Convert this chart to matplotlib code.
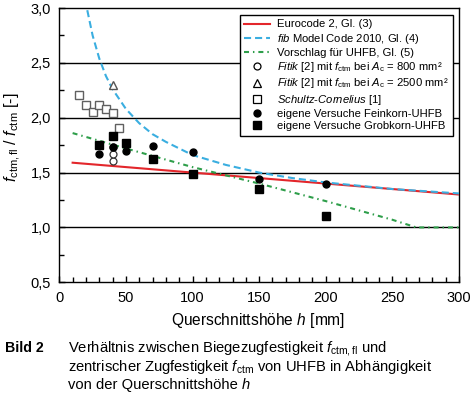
import matplotlib
matplotlib.use("Agg")
import matplotlib.pyplot as plt
from matplotlib.ticker import MultipleLocator, FuncFormatter
from matplotlib.lines import Line2D

plt.rcParams['font.family'] = ['Liberation Sans', 'DejaVu Sans']
plt.rcParams['mathtext.fontset'] = 'custom'
plt.rcParams['mathtext.rm'] = 'Liberation Sans'
plt.rcParams['mathtext.it'] = 'Liberation Sans:italic'
plt.rcParams['mathtext.bf'] = 'Liberation Sans:bold'

# ---- data ----
ec2_h = [10, 300]
ec2_r = [1.59, 1.30]

fib_h = [21, 25, 30, 35, 40, 50, 60, 70, 80, 100, 125, 150, 175, 200, 250, 300]
fib_r = [2.98, 2.75, 2.54, 2.38, 2.26, 2.08, 1.95, 1.85, 1.78, 1.66, 1.57, 1.50, 1.45, 1.41, 1.35, 1.31]

uhfb_h = [10, 50, 100, 150, 200, 250, 268, 300]
uhfb_r = [1.86, 1.72, 1.55, 1.40, 1.24, 1.07, 1.00, 1.00]

fitik800_h = [40, 40, 40]
fitik800_r = [1.61, 1.67, 1.73]

fitik2500_h = [40]
fitik2500_r = [2.30]

schultz_h = [15, 20, 25, 30, 35, 40, 45]
schultz_r = [2.21, 2.12, 2.05, 2.12, 2.08, 2.04, 1.91]

fein_h = [30, 40, 50, 70, 100, 150, 200]
fein_r = [1.67, 1.735, 1.70, 1.74, 1.69, 1.44, 1.40]

grob_h = [30, 40, 50, 70, 100, 150, 200]
grob_r = [1.75, 1.83, 1.77, 1.62, 1.49, 1.35, 1.10]

labels = [
    "Eurocode 2, Gl. (3)",
    r"$\it{fib}$ Model Code 2010, Gl. (4)",
    r"Vorschlag für UHFB, Gl. (5)",
    r"$\it{Fitik}$ [2] mit $f_{\rm ctm}$ bei $A_{\rm c}$ = 800 mm²",
    r"$\it{Fitik}$ [2] mit $f_{\rm ctm}$ bei $A_{\rm c}$ = 2500 mm²",
    r"$\it{Schultz}$-$\it{Cornelius}$ [1]",
    "eigene Versuche Feinkorn-UHFB",
    "eigene Versuche Grobkorn-UHFB",
]

fig = plt.figure(figsize=(4.71, 3.93), dpi=100)
ax = fig.add_axes([59.3/471, 1-282.3/393, (459-59.3)/471, (282.3-8)/393])

red = '#e3262b'
blue = '#3aaee0'
green = '#2e9e4a'
blue_dash = (3.4, 1.9)
green_dash = (2.4, 1.9, 0.7, 1.9)

for y in [1.0, 1.5, 2.0, 2.5]:
    ax.axhline(y, color='black', lw=1.0, zorder=1)

ax.plot(ec2_h, ec2_r, color=red, lw=1.5, zorder=3)
ax.plot(fib_h, fib_r, color=blue, lw=1.5, dashes=blue_dash, zorder=3)
ax.plot(uhfb_h, uhfb_r, color=green, lw=1.5, dashes=green_dash, zorder=3)

ax.plot(fitik800_h, fitik800_r, 'o', ms=5.0, mfc='white', mec='#333333', mew=0.9, ls='none', zorder=4)
ax.plot(fitik2500_h, fitik2500_r, '^', ms=6.0, mfc='white', mec='#555555', mew=1.0, ls='none', zorder=4)
ax.plot(schultz_h, schultz_r, 's', ms=5.6, mfc='white', mec='#606060', mew=1.0, ls='none', zorder=4)
ax.plot(grob_h, grob_r, 's', ms=6.0, color='black', ls='none', zorder=5)
ax.plot(fein_h, fein_r, 'o', ms=5.0, color='black', ls='none', zorder=5)

ax.set_xlim(0, 300)
ax.set_ylim(0.5, 3.0)
ax.xaxis.set_major_locator(MultipleLocator(50))
ax.xaxis.set_minor_locator(MultipleLocator(10))
ax.yaxis.set_major_locator(MultipleLocator(0.5))
ax.yaxis.set_minor_locator(MultipleLocator(0.25))
ax.yaxis.set_major_formatter(FuncFormatter(lambda v, p: f"{v:.1f}".replace('.', ',')))
ax.tick_params(which='both', direction='in', top=False, right=False, width=1.0, color='black')
ax.tick_params(which='major', length=4, labelsize=10.5, pad=6)
ax.tick_params(which='minor', length=3.5)
for s in ax.spines.values():
    s.set_linewidth(1.0)
    s.set_color('black')

handles = [
    Line2D([], [], color=red, lw=1.5),
    Line2D([], [], color=blue, lw=1.5, dashes=blue_dash),
    Line2D([], [], color=green, lw=1.5, dashes=green_dash),
    Line2D([], [], marker='o', ms=5.0, mfc='white', mec='black', mew=0.9, ls='none'),
    Line2D([], [], marker='^', ms=5.5, mfc='white', mec='black', mew=0.9, ls='none'),
    Line2D([], [], marker='s', ms=5.5, mfc='white', mec='black', mew=0.9, ls='none'),
    Line2D([], [], marker='o', ms=5.0, color='black', ls='none'),
    Line2D([], [], marker='s', ms=5.5, color='black', ls='none'),
]
leg = ax.legend(handles, labels, loc='upper right', bbox_to_anchor=(0.985, 0.9745),
                borderaxespad=0, fancybox=False, edgecolor='black', framealpha=1,
                fontsize=8.1, handlelength=2.3, handletextpad=0.6, labelspacing=0.2,
                borderpad=0.4)
leg.get_frame().set_linewidth(1.0)
leg.set_zorder(10)

fig.text(13/471, 1-137/393, r"$f_{\rm ctm,fl}$ / $f_{\rm ctm}$ [-]", rotation=90,
         ha='center', va='center', fontsize=11.5)
fig.text(0.547, 1-321/393, r"Querschnittshöhe $h$ [mm]", ha='center', va='center', fontsize=11.2)

fig.text(5/471, 1-352.5/393, "Bild 2", fontsize=10.2, fontweight='bold', va='baseline', ha='left')
fig.text(67.7/471, 1-352.5/393, r"Verhältnis zwischen Biegezugfestigkeit $f_{\rm ctm,fl}$ und",
         fontsize=10.6, va='baseline', ha='left')
fig.text(67.7/471, 1-371.0/393, r"zentrischer Zugfestigkeit $f_{\rm ctm}$ von UHFB in Abhängigkeit",
         fontsize=10.6, va='baseline', ha='left')
t3 = fig.text(67.7/471, 1-389.3/393, "von der Querschnittshöhe ",
              fontsize=10.6, va='baseline', ha='left')
fig.canvas.draw()
bb = t3.get_window_extent(renderer=fig.canvas.get_renderer())
fig.text(bb.x1/fig.bbox.width, 1-389.3/393, "h", fontsize=10.6, style='italic',
         va='baseline', ha='left')

fig.savefig('out.png', dpi=100)
